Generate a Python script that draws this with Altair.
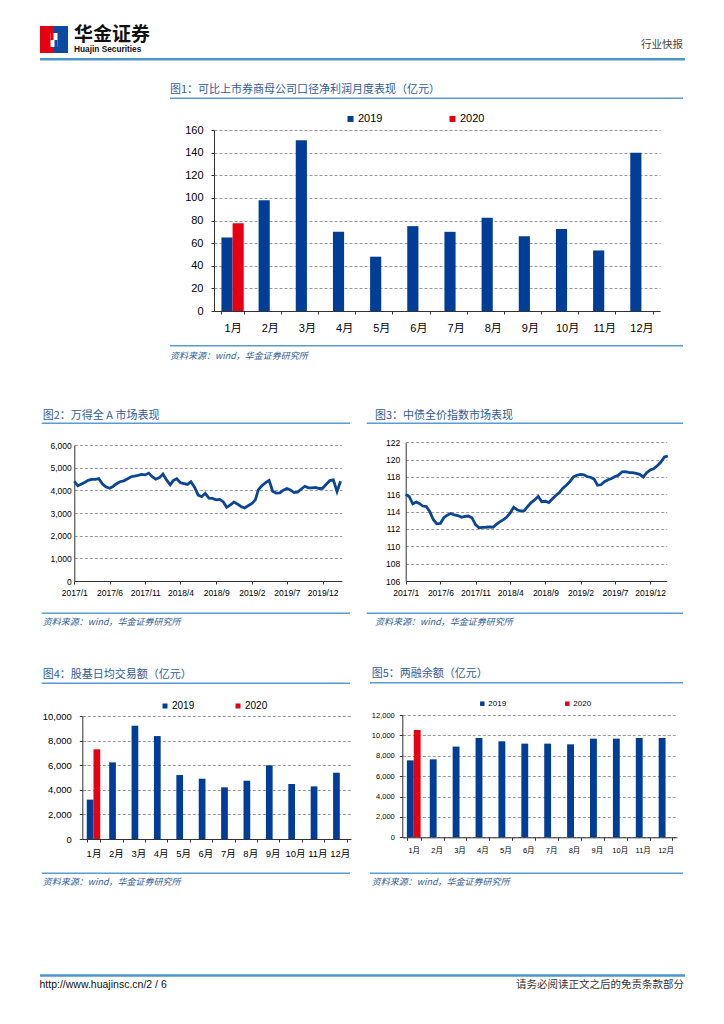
import altair as alt
import pandas as pd

# ---------------- data ----------------
months = ['1月', '2月', '3月', '4月', '5月', '6月', '7月', '8月', '9月', '10月', '11月', '12月']
years = ['2019', '2020']

profit_2019 = [65, 98, 151, 70, 48, 75, 70, 82.5, 66, 72.5, 53.5, 140]
profit_2020 = [77.5]

turnover_2019 = [3200, 6230, 9210, 8370, 5200, 4900, 4200, 4740, 5990, 4470, 4280, 5390]
turnover_2020 = [7290]

margin_2019 = [7550, 7650, 8900, 9750, 9420, 9190, 9190, 9120, 9680, 9680, 9750, 9750]
margin_2020 = [10530]

dates = [
    '2017-01-01', '2017-01-16', '2017-02-01', '2017-02-16', '2017-03-01', '2017-03-16',
    '2017-04-01', '2017-04-16', '2017-05-01', '2017-05-16', '2017-06-01', '2017-06-16',
    '2017-07-01', '2017-07-16', '2017-08-01', '2017-08-16', '2017-09-01', '2017-09-16',
    '2017-10-01', '2017-10-16', '2017-11-01', '2017-11-16', '2017-12-01', '2017-12-16',
    '2018-01-01', '2018-01-16', '2018-02-01', '2018-02-16', '2018-03-01', '2018-03-16',
    '2018-04-01', '2018-04-16', '2018-05-01', '2018-05-16', '2018-06-01', '2018-06-16',
    '2018-07-01', '2018-07-16', '2018-08-01', '2018-08-16', '2018-09-01', '2018-09-16',
    '2018-10-01', '2018-10-16', '2018-11-01', '2018-11-16', '2018-12-01', '2018-12-16',
    '2019-01-01', '2019-01-16', '2019-02-01', '2019-02-16', '2019-03-01', '2019-03-16',
    '2019-04-01', '2019-04-16', '2019-05-01', '2019-05-16', '2019-06-01', '2019-06-16',
    '2019-07-01', '2019-07-16', '2019-08-01', '2019-08-16', '2019-09-01', '2019-09-16',
    '2019-10-01', '2019-10-16', '2019-11-01', '2019-11-16', '2019-12-01', '2019-12-16',
    '2020-01-01', '2020-01-16', '2020-02-01', '2020-02-16',
]

wind_a = [
    4400, 4200, 4280, 4360, 4440, 4480, 4485, 4515, 4290, 4160,
    4090, 4170, 4290, 4380, 4420, 4500, 4600, 4630, 4660, 4700,
    4680, 4760, 4600, 4490, 4560, 4720, 4450, 4240, 4430, 4510,
    4340, 4300, 4260, 4380, 4130, 3790, 3720, 3870, 3660, 3645,
    3580, 3600, 3500, 3250, 3360, 3480, 3400, 3290, 3220, 3320,
    3420, 3580, 4030, 4200, 4340, 4440, 3960, 3880, 3890, 4010,
    4080, 4020, 3900, 3920, 4060, 4180, 4110, 4110, 4125, 4080,
    4090, 4260, 4430, 4460, 3950, 4400,
]

bond_idx = [
    116.0, 115.75, 114.9, 115.1, 114.95, 114.65, 114.58, 114.0, 113.1, 112.6,
    112.65, 113.3, 113.6, 113.78, 113.62, 113.55, 113.35, 113.46, 113.5, 113.3,
    112.5, 112.15, 112.19, 112.2, 112.25, 112.2, 112.55, 112.85, 113.05, 113.35,
    113.85, 114.5, 114.22, 114.08, 114.12, 114.6, 115.04, 115.35, 115.75, 115.15,
    115.2, 115.05, 115.45, 115.85, 116.2, 116.7, 117.05, 117.45, 118.0, 118.2,
    118.3, 118.25, 118.05, 117.97, 117.75, 117.05, 117.1, 117.45, 117.68, 117.82,
    118.05, 118.2, 118.6, 118.62, 118.5, 118.5, 118.42, 118.3, 118.0, 118.5,
    118.8, 118.95, 119.3, 119.7, 120.3, 120.42,
]

tick_dates = [(2017, 1), (2017, 6), (2017, 11), (2018, 4), (2018, 9), (2019, 2), (2019, 7), (2019, 12)]

# ---------------- styles ----------------
W, H = 700, 1000
BLUE = '#003d96'
RED = '#e60012'
LINE_BLUE = '#0b4596'
TITLE_BLUE = '#2f5b9a'
RULE_BLUE = '#5b9bd5'
HEAD_BLUE = '#4a96d0'
FONT = 'Liberation Sans, Arial, Noto Sans CJK SC'
CJK = 'Noto Sans CJK SC'
GRID = '#999999'


def P(v):
    return v - 8


one = pd.DataFrame({'k': [0]})


def text(s, x, y, size, color='black', align='left', weight='normal', style='normal', font=CJK):
    return alt.Chart(one).mark_text(
        text=s, align=align, baseline='middle', fontSize=size, color=color,
        fontWeight=weight, fontStyle=style, font=font
    ).encode(x=alt.value(P(x)), y=alt.value(P(y)))


def hline(x1, x2, y, color, w):
    return alt.Chart(one).mark_rule(color=color, strokeWidth=w).encode(
        x=alt.value(P(x1)), x2=alt.value(P(x2)), y=alt.value(P(y)))


def rect(x1, x2, y1, y2, color):
    return alt.Chart(one).mark_rect(color=color).encode(
        x=alt.value(P(x1)), x2=alt.value(P(x2)), y=alt.value(P(y1)), y2=alt.value(P(y2)))


def bar_df(v19, v20):
    rows = [{'月份': m, '年份': '2019', '值': v} for m, v in zip(months, v19)]
    rows += [{'月份': m, '年份': '2020', '值': v} for m, v in zip(months, v20)]
    return pd.DataFrame(rows)


def bar_layer(df, xr, yr, ydom, yvals, lab, xlabpad, ylabpad, leg):
    return alt.Chart(df).mark_bar().encode(
        x=alt.X('月份:N', sort=months,
                scale=alt.Scale(range=[P(xr[0]), P(xr[1])], paddingInner=0.4, paddingOuter=0.2),
                axis=alt.Axis(orient='bottom', offset=P(yr[0]) - H, title=None, labelAngle=0,
                              grid=False, tickBand='extent', tickSize=3, tickColor='#333',
                              domainColor='#333', labelFontSize=lab, labelFont=FONT,
                              labelColor='black', labelPadding=xlabpad)),
        xOffset=alt.XOffset('年份:N', scale=alt.Scale(domain=years)),
        y=alt.Y('值:Q',
                scale=alt.Scale(domain=ydom, range=[P(yr[0]), P(yr[1])], nice=False),
                axis=alt.Axis(orient='left', offset=-P(xr[0]), title=None, values=yvals,
                              format=',.0f', grid=True, gridDash=[3, 2], gridColor=GRID,
                              gridWidth=1, tickSize=3, tickColor='#333', domainColor='#333',
                              labelFontSize=lab, labelFont=FONT, labelColor='black',
                              labelPadding=ylabpad, labelOverlap=False)),
        color=alt.Color('年份:N', scale=alt.Scale(domain=years, range=[BLUE, RED]),
                        legend=alt.Legend(orient='none', legendX=P(leg[0]), legendY=P(leg[1]),
                                          direction='horizontal', title=None, symbolType='square',
                                          symbolSize=leg[2], symbolStrokeWidth=0,
                                          labelFontSize=leg[3], labelFont=FONT,
                                          labelColor='black', columnPadding=leg[4],
                                          labelOffset=2, padding=0)),
    )


def line_layer(values, name, xr, yr, dom_end, ydom, yvals, ylabpad):
    df = pd.DataFrame({'日期': pd.to_datetime(dates), name: values})
    return alt.Chart(df).mark_line(color=LINE_BLUE, strokeWidth=2.8).encode(
        x=alt.X('日期:T',
                scale=alt.Scale(domain=[alt.DateTime(year=2017, month=1, date=1),
                                        alt.DateTime(year=dom_end[0], month=dom_end[1], date=dom_end[2])],
                                range=[P(xr[0]), P(xr[1])]),
                axis=alt.Axis(orient='bottom', offset=P(yr[0]) - H, title=None, grid=False,
                              values=[alt.DateTime(year=y, month=m, date=1) for y, m in tick_dates],
                              format='%Y/%-m', formatType='time', labelFlush=False,
                              labelOverlap=False, tickSize=3, tickColor='#333',
                              domainColor='#333', labelFontSize=8.5, labelFont=FONT,
                              labelColor='black', labelPadding=4)),
        y=alt.Y(f'{name}:Q',
                scale=alt.Scale(domain=ydom, range=[P(yr[0]), P(yr[1])], nice=False),
                axis=alt.Axis(orient='left', offset=-P(xr[0]), title=None, values=yvals,
                              format=',.0f', grid=True, gridDash=[3, 2], gridColor=GRID,
                              tickSize=0, domainColor='#333', labelFontSize=8.5,
                              labelFont=FONT, labelColor='black', labelPadding=ylabpad,
                              labelOverlap=False)),
    )


# ---------------- charts ----------------
c1 = bar_layer(bar_df(profit_2019, profit_2020), (214, 660), (311, 130), [0, 160],
               list(range(0, 161, 20)), 11, 8, 8, (345, 113.2, 36, 11, 64))
c4 = bar_layer(bar_df(turnover_2019, turnover_2020), (82.3, 351), (839, 716), [0, 10000],
               list(range(0, 10001, 2000)), 9.5, 6.5, 8, (160, 701, 25, 10, 38))
c5 = bar_layer(bar_df(margin_2019, margin_2020), (402.3, 677), (837.3, 715), [0, 12000],
               list(range(0, 12001, 2000)), 7.5, 6, 5, (478.3, 699.7, 20, 8, 57))

c2 = line_layer(wind_a, '万得全A', (74.3, 341.7), (581, 445), (2020, 2, 21), [0, 6000],
                list(range(0, 6001, 1000)), 3)
c3 = line_layer(bond_idx, '中债全价指数', (405.7, 666.7), (581, 442.3), (2020, 2, 11), [106, 122],
                list(range(106, 123, 2)), 6)

src = '资料来源：wind，华金证券研究所'

decor = [
    # header
    rect(40, 54, 26, 53, '#e60012'),
    rect(54, 68, 26, 53, '#0a4aa0'),
    rect(50.5, 57.5, 33, 47, 'white'),
    rect(50.5, 53.5, 33, 40, '#e60012'),
    rect(54.5, 57.5, 40, 47, '#0a4aa0'),
    text('华金证券', 74, 35, 19, color='#111111', weight='bold'),
    text('Huajin Securities', 74, 50, 8.3, color='#111111', weight='bold', font=FONT),
    text('行业快报', 683, 45, 10.5, color='#444444', align='right'),
    hline(40, 685, 59.3, HEAD_BLUE, 2.5),
    # chart 1 frame
    text('图1：可比上市券商母公司口径净利润月度表现（亿元）', 170, 90, 11, color=TITLE_BLUE),
    hline(170, 683, 98.3, RULE_BLUE, 1.5),
    hline(170, 683, 345.7, RULE_BLUE, 1.5),
    text(src, 170, 356, 9, color=TITLE_BLUE, style='italic'),
    # chart 2 frame
    text('图2：万得全 A 市场表现', 42.7, 416, 11, color=TITLE_BLUE),
    hline(41.7, 350, 423.3, RULE_BLUE, 1.5),
    hline(41.7, 350, 613.3, RULE_BLUE, 1.5),
    text(src, 42.7, 621.7, 9, color=TITLE_BLUE, style='italic'),
    # chart 3 frame
    text('图3：中债全价指数市场表现', 375, 416, 11, color=TITLE_BLUE),
    hline(366.7, 683, 423.3, RULE_BLUE, 1.5),
    hline(366.7, 683, 613.3, RULE_BLUE, 1.5),
    text(src, 375, 621.7, 9, color=TITLE_BLUE, style='italic'),
    # chart 4 frame
    text('图4：股基日均交易额（亿元）', 42.7, 675, 11, color=TITLE_BLUE),
    hline(41.7, 350, 683.3, RULE_BLUE, 1.5),
    hline(41.7, 350, 873.3, RULE_BLUE, 1.5),
    text(src, 42.7, 881.7, 9, color=TITLE_BLUE, style='italic'),
    # chart 5 frame
    text('图5：两融余额（亿元）', 371.7, 674, 11, color=TITLE_BLUE),
    hline(370, 683, 682.7, RULE_BLUE, 1.5),
    hline(370, 683, 873.3, RULE_BLUE, 1.5),
    text(src, 371.7, 881.7, 9, color=TITLE_BLUE, style='italic'),
    # footer
    hline(40, 685, 975.5, HEAD_BLUE, 2.5),
    text('http://www.huajinsc.cn/2 / 6', 39.5, 984.5, 10.5, color='#111111', font=FONT),
    text('请务必阅读正文之后的免责条款部分', 684, 984.5, 10.5, color='#333333', align='right'),
]

chart = alt.layer(c1, c2, c3, c4, c5, *decor).resolve_scale(
    x='independent', y='independent', color='independent', xOffset='independent'
).resolve_axis(
    x='independent', y='independent'
).resolve_legend(
    color='independent'
).properties(
    width=W, height=H, padding=0, background='white'
).configure_view(strokeWidth=0)

chart.save('out.html', embed_options={'renderer': 'svg', 'actions': False})
